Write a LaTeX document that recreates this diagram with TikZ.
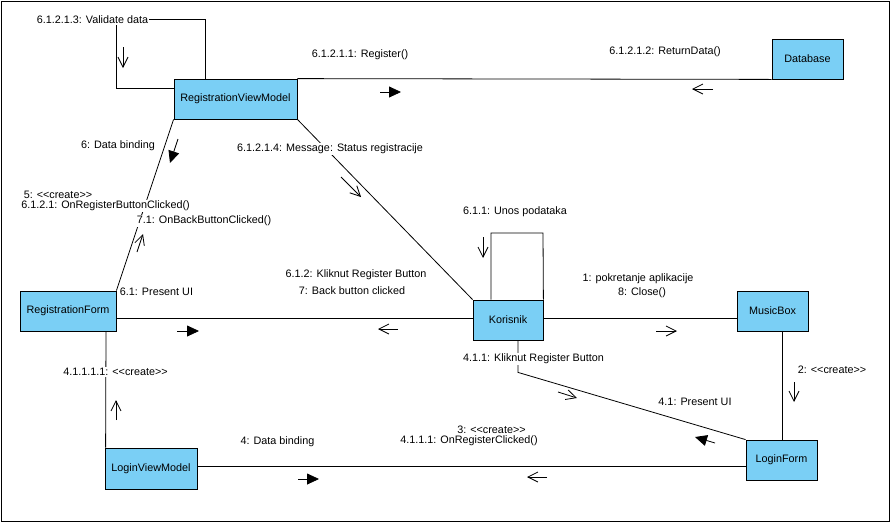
\documentclass[tikz,border=0pt]{standalone}
\usepackage{fontspec}
\setmainfont{Liberation Sans}
\usetikzlibrary{arrows.meta}
\definecolor{vpblue}{RGB}{122,207,245}
\newcommand\ster[1]{<\kern0pt<#1>\kern0pt>}

\begin{document}
\begin{tikzpicture}[x=1pt,y=-1pt,line width=0.8pt,
    font=\fontsize{10.8}{13}\selectfont,
    obj/.style={draw,fill=vpblue,minimum height=40pt,inner sep=0pt},
    lbl/.style={fill=white,inner sep=1pt},
    msgo/.style={-{Straight Barb[length=10pt,width=10pt]}},
    msgf/.style={-{Triangle[length=12pt,width=11pt]}}]
    \useasboundingbox (0,0) rectangle (891,523);
    \draw (1,1) rectangle (889,521);

    % oggetti
    \node[obj,minimum width=123pt] (rvm) at (235.5,99) {RegistrationViewModel};
    \node[obj,minimum width=71pt] (db) at (807.5,59) {Database};
    \node[obj,minimum width=96pt] (rf) at (68,311) {RegistrationForm};
    \node[obj,minimum width=92pt,minimum height=41pt] (lvm) at (151,468.5) {LoginViewModel};
    \node[obj,minimum width=70pt] (kor) at (508,320) {Korisnik};
    \node[obj,minimum width=71pt] (mb) at (772.5,311) {MusicBox};
    \node[obj,minimum width=71pt] (lf) at (781.5,460) {LoginForm};

    % collegamenti
    \coordinate (rloop) at (116,19);
    \coordinate (kloop) at (543,233);
    \draw ([xshift=32pt]rvm.north west) |- (rloop) |- ([yshift=-10pt]rvm.north west);
    \draw (rvm.north east) -- (db.south west);
    \draw (rvm.south west) -- (rf.north east);
    \draw (rvm.south east) -- (kor.north west);
    \draw ([xshift=-17pt]kor.north) |- (kloop) -- (kor.north east);
    \draw ([yshift=-7pt]rf.east) -- ([yshift=2pt]kor.west);
    \draw ([yshift=2pt]kor.east) -- ([yshift=-7pt]mb.west);
    \draw ([xshift=9.5pt]mb.south) -- ([xshift=0.5pt]lf.north);
    \draw ([xshift=10pt]kor.south) -- ++(0,32) -- (lf.north west);
    \draw ([yshift=2.5pt]lvm.east) -- ([yshift=-6pt]lf.west);
    \draw ([xshift=38pt]rf.south) -- ([xshift=1pt]lvm.north west);

    % messaggi
    \node[lbl] at (92.5,20) {6.1.2.1.3: Validate data};
    \node[lbl] at (360,55) {6.1.2.1.1: Register()};
    \node[lbl] at (665,52) {6.1.2.1.2: ReturnData()};
    \node[lbl] at (118,146) {6: Data binding};
    \node[lbl] at (330,149) {6.1.2.1.4: Message: Status registracije};
    \node[lbl] at (58,195) {5: \ster{create}};
    \node[lbl] at (105.5,206) {6.1.2.1: OnRegisterButtonClicked()};
    \node[lbl] at (204,221) {7.1: OnBackButtonClicked()};
    \node[lbl] at (515,212) {6.1.1: Unos podataka};
    \node[lbl] at (356,275) {6.1.2: Kliknut Register Button};
    \node[lbl] at (352,291) {7: Back button clicked};
    \node[lbl] at (156.5,292) {6.1: Present UI};
    \node[lbl] at (638,279) {1: pokretanje aplikacije};
    \node[lbl] at (642,293) {8: Close()};
    \node[lbl] at (533.5,359) {4.1.1: Kliknut Register Button};
    \node[lbl] at (832,370) {2: \ster{create}};
    \node[lbl] at (115.5,372) {4.1.1.1.1: \ster{create}};
    \node[lbl] at (695,402) {4.1: Present UI};
    \node[lbl] at (491.5,430) {3: \ster{create}};
    \node[lbl] at (469,441) {4.1.1.1: OnRegisterClicked()};
    \node[lbl] at (277.5,442) {4: Data binding};

    % frecce
    \draw[msgo] (123,47) -- (123,68);
    \draw[msgf] (380,92) -- (401,92);
    \draw[msgo] (713,89) -- (692,89);
    \draw[msgf] (178,139) -- (170,163);
    \draw[msgo] (137,252) -- (143,234);
    \draw[msgo] (341,177) -- (361,197);
    \draw[msgf] (177,331) -- (199,331);
    \draw[msgo] (398,329) -- (378,329);
    \draw[msgo] (483,237) -- (483,258);
    \draw[msgo] (656,331) -- (677,331);
    \draw[msgo] (794,382) -- (794,402);
    \draw[msgo] (558,392) -- (577,398);
    \draw[msgf] (715,443) -- (695,437);
    \draw[msgf] (298,479) -- (319,479);
    \draw[msgo] (547,477) -- (527,477);
    \draw[msgo] (116,420) -- (116,400);
\end{tikzpicture}
\end{document}
